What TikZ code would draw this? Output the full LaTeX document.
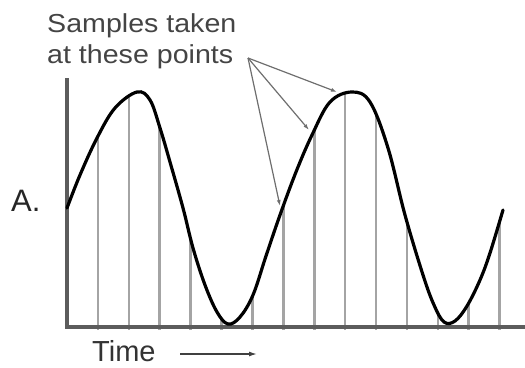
\documentclass[tikz,border=0pt]{standalone}
\usepackage{fontspec}
\setmainfont{Liberation Sans}
\usetikzlibrary{arrows.meta, positioning, calc}

\definecolor{axisgray}{HTML}{5C5C5C}
\definecolor{samplegray}{HTML}{A4A4A4}
\definecolor{pointergray}{HTML}{6E6E6E}
\definecolor{textgray}{HTML}{444444}

% the drawn signal, in picture pixels
\newcommand{\sigwave}{plot[smooth, tension=0.6] coordinates {
    (67,208) (80,175) (97,138) (115,108) (137,92) (150,100) (160,128)
    (170,162) (183,208) (193,248) (205,285) (217,312) (228,324) (240,317)
    (253,295) (266,256) (280,215) (296,172) (312,135) (330,102) (352,92)
    (370,102) (388,148) (405,215) (423,275) (434,305) (444,322) (455,321)
    (467,306) (480,280) (490,253) (503,210)}}

\begin{document}
\begin{tikzpicture}[x=1pt, y=-1pt,
    lbl/.style={inner sep=0pt, anchor=base west, text=textgray, font=\fontsize{26}{28}\selectfont},
    pointer/.style={draw=pointergray, line width=1.2pt, -{Latex[length=6pt,width=4pt]}},
    sample/.style={draw=samplegray, line width=2.6pt},
    axis/.style={draw=axisgray, line width=3.5pt}]
    \useasboundingbox (0,0) rectangle (525,367);

    % labels
    \node[lbl] (samp) at (47,32) {\scalebox{1.1}[1]{Samples taken}};
    \node[lbl] (pts) at (47,63) {\scalebox{1.1}[1]{at these points}};
    \node[lbl, text=black!85, font=\fontsize{31}{33}\selectfont] (amp) at (11,211) {A.};
    \node[lbl, text=black!80, font=\fontsize{29}{31}\selectfont] (time) at (92,361) {Time};

    % sample lines, cut off by the signal
    \begin{scope}
        \clip \sigwave -- (503,330) -- (67,330) -- cycle;
        \foreach \k in {1,...,14} {
            \draw[sample] (67+30.9*\k,330) -- (67+30.9*\k,80);
        }
    \end{scope}

    % axes
    \coordinate (org) at (67,327);
    \coordinate (ytop) at (67,78);
    \coordinate (xend) at (527,327);
    \draw[axis] (ytop) -- (org) -- (xend);

    % signal
    \draw[black, line width=3.2pt, line cap=round] \sigwave;

    % pointers from the label
    \coordinate (src) at (248,58);
    \coordinate (t1) at (280,206);
    \coordinate (t2) at (309,130);
    \coordinate (t3) at (337,92);
    \foreach \t in {t1,t2,t3} {
        \draw[pointer] (src) -- (\t);
    }

    % time arrow
    \coordinate (ta) at (180,354);
    \coordinate (tb) at (257,354);
    \draw[draw=black!75, line width=1.4pt, -{Latex[length=8pt,width=5pt]}] (ta) -- (tb);
\end{tikzpicture}
\end{document}
